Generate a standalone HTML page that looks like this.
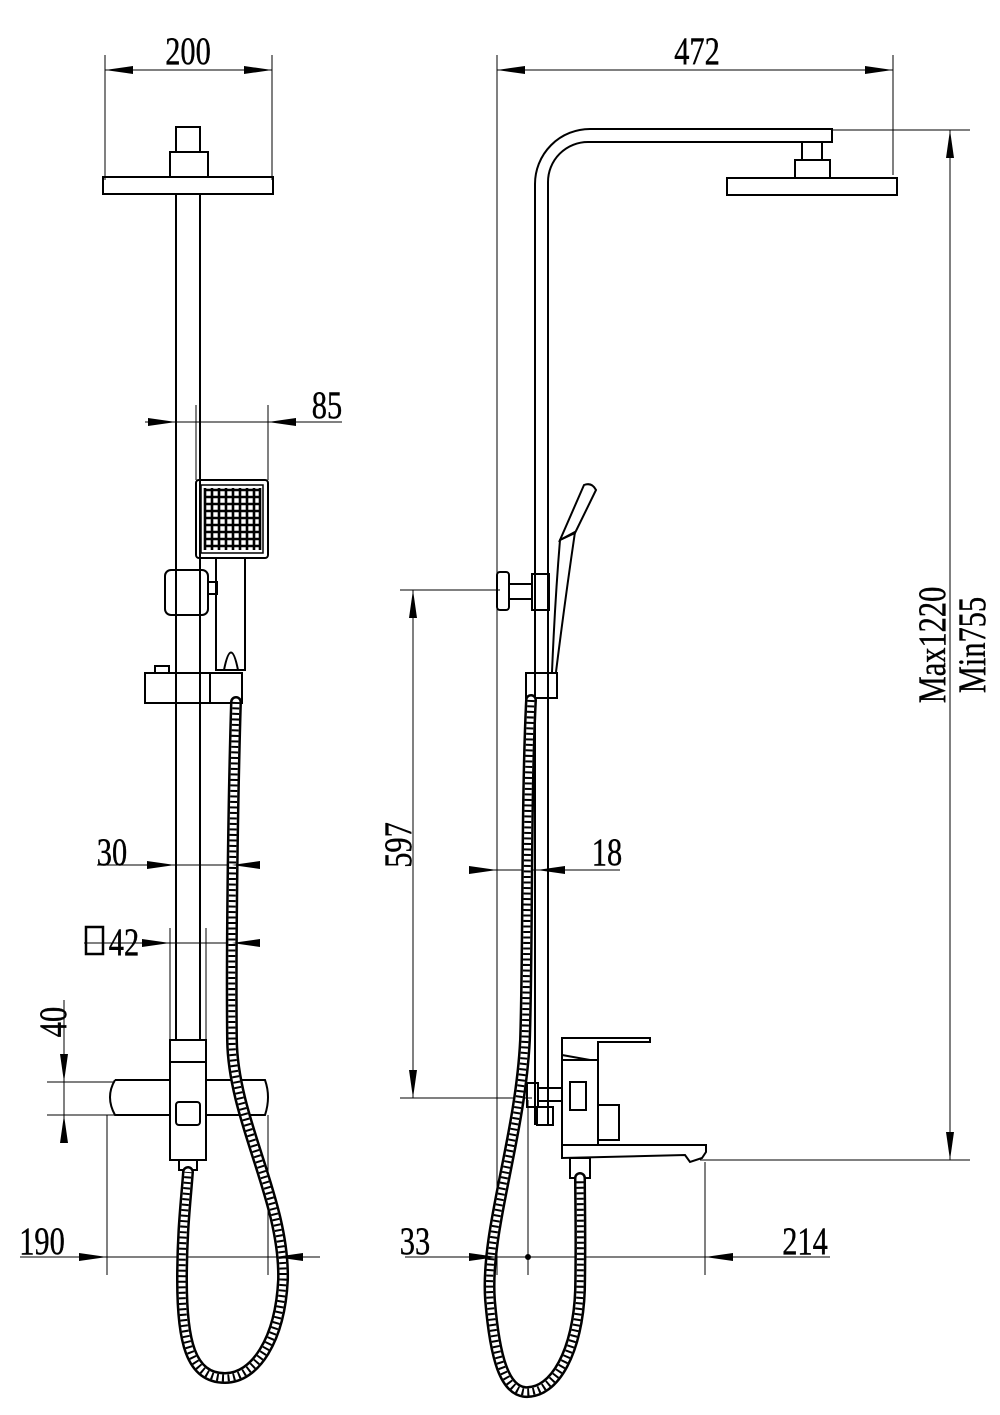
<!DOCTYPE html>
<html><head><meta charset="utf-8"><style>
html,body{margin:0;padding:0;background:#fff}
svg{display:block}
text{font-family:"Liberation Serif",serif;font-size:39px;fill:#000;stroke:#000;stroke-width:0.4}
</style></head><body>
<svg width="1000" height="1415" viewBox="0 0 1000 1415" xmlns="http://www.w3.org/2000/svg">
<g fill="none" stroke="#000" stroke-width="1">
<!-- ===== LEFT VIEW ===== -->
<line x1="105" y1="55" x2="105" y2="180"/><line x1="272" y1="55" x2="272" y2="180"/>
<line x1="105" y1="70" x2="272" y2="70"/>
<g stroke-width="2">
<rect x="103" y="177" width="170" height="17"/>
<rect x="170" y="152" width="38" height="25"/>
<rect x="176" y="127" width="24" height="25"/>
<line x1="176" y1="194" x2="176" y2="1040"/><line x1="200" y1="194" x2="200" y2="1040"/>
<rect x="196" y="480" width="72" height="78" rx="3"/>
<rect x="201" y="485" width="62" height="68" stroke-width="1.5"/>
<rect x="216" y="558" width="29" height="112"/>
<path d="M224,670 Q231,635 238,670"/>
<rect x="165" y="570" width="43" height="45" rx="6"/>
<rect x="208" y="582" width="9" height="12"/>
<rect x="145" y="673" width="65" height="30"/>
<rect x="210" y="673" width="32" height="30"/>
<rect x="155" y="666" width="14" height="7"/>
<rect x="170" y="1040" width="36" height="120"/>
<line x1="170" y1="1062" x2="206" y2="1062"/>
<path d="M115,1080 L170,1080 M206,1080 L265,1080 Q271,1097 265,1115 L206,1115 M170,1115 L115,1115 Q105,1097 115,1080"/>
<rect x="176" y="1102" width="24" height="23" rx="3"/>
<rect x="179" y="1160" width="18" height="10"/>
</g>
<g stroke-width="2.6">
<line x1="204" y1="490" x2="260" y2="490"/><line x1="204" y1="497" x2="260" y2="497"/><line x1="204" y1="504" x2="260" y2="504"/><line x1="204" y1="511" x2="260" y2="511"/><line x1="204" y1="518" x2="260" y2="518"/><line x1="204" y1="525" x2="260" y2="525"/><line x1="204" y1="532" x2="260" y2="532"/><line x1="204" y1="539" x2="260" y2="539"/><line x1="204" y1="546" x2="260" y2="546"/>
<line x1="205" y1="488" x2="205" y2="550"/><line x1="212" y1="488" x2="212" y2="550"/><line x1="219" y1="488" x2="219" y2="550"/><line x1="226" y1="488" x2="226" y2="550"/><line x1="233" y1="488" x2="233" y2="550"/><line x1="240" y1="488" x2="240" y2="550"/><line x1="247" y1="488" x2="247" y2="550"/><line x1="254" y1="488" x2="254" y2="550"/><line x1="260" y1="488" x2="260" y2="550"/>
</g>
<line x1="196" y1="405" x2="196" y2="480"/><line x1="268" y1="405" x2="268" y2="480"/>
<line x1="145" y1="422" x2="342" y2="422"/>
<line x1="97" y1="865" x2="252" y2="865"/>
<line x1="84" y1="943" x2="257" y2="943"/>
<line x1="170" y1="928" x2="170" y2="1040"/><line x1="206" y1="928" x2="206" y2="1040"/>
<line x1="64" y1="1000" x2="64" y2="1140"/>
<line x1="47" y1="1082" x2="115" y2="1082"/><line x1="47" y1="1115" x2="115" y2="1115"/>
<line x1="20" y1="1257" x2="320" y2="1257"/>
<line x1="107" y1="1115" x2="107" y2="1275"/><line x1="268" y1="1115" x2="268" y2="1275"/>
<rect x="86" y="927" width="17" height="27" stroke-width="2.5"/>

<!-- ===== RIGHT VIEW ===== -->
<line x1="497" y1="55" x2="497" y2="1275"/><line x1="893" y1="55" x2="893" y2="175"/>
<line x1="497" y1="70" x2="893" y2="70"/>
<line x1="832" y1="130" x2="970" y2="130"/><line x1="700" y1="1160" x2="970" y2="1160"/>
<line x1="950" y1="130" x2="950" y2="1160"/>
<line x1="400" y1="590" x2="500" y2="590"/><line x1="400" y1="1098" x2="532" y2="1098"/>
<line x1="413" y1="590" x2="413" y2="1098"/>
<line x1="484" y1="870" x2="620" y2="870"/>
<line x1="405" y1="1257" x2="830" y2="1257"/>
<line x1="528" y1="1100" x2="528" y2="1275"/><line x1="705" y1="1162" x2="705" y2="1275"/>
<g stroke-width="2">
<path d="M535,1125 L535,184 A55,55 0 0 1 590,129 L832,129 L832,142 L588,142 A40,40 0 0 0 548,182 L548,1125"/>
<rect x="727" y="178" width="170" height="17"/>
<rect x="795" y="160" width="35" height="18"/>
<rect x="802" y="142" width="20" height="18"/>
<rect x="497" y="572" width="12" height="38" rx="3"/>
<rect x="509" y="584" width="23" height="15"/>
<rect x="532" y="574" width="17" height="36"/>
<path d="M552,672 Q555,600 560,540 L575,532 Q565,600 556,672"/>
<path d="M560,540 L584,485 Q592,482 596,490 L575,533 Z"/>
<rect x="526" y="673" width="31" height="25"/>
<path d="M562,1038 L650,1038 L650,1042 L598,1042 L598,1060 L562,1060 Z"/>
<path d="M562,1055 L590,1060"/>
<rect x="562" y="1060" width="36" height="85"/>
<rect x="570" y="1082" width="16" height="28"/>
<rect x="538" y="1088" width="24" height="13"/>
<rect x="527" y="1083" width="11" height="24"/>
<rect x="537" y="1107" width="16" height="18"/>
<rect x="598" y="1105" width="21" height="35"/>
<path d="M562,1145 L706,1145 L706,1152 L702,1158 L690,1162 L685,1155 L562,1158 Z"/>
<rect x="570" y="1158" width="20" height="20"/>
</g>
<circle cx="528" cy="1257" r="2.5" fill="#000"/>
<g stroke-linecap="round">
<path d="M236,702 C233,800 231,950 232,1040 C233,1120 285,1200 283,1280 C280,1340 255,1378 225,1378 C190,1378 182,1340 182,1280 C182,1230 186,1200 188,1172" stroke-width="12"/>
<path d="M236,702 C233,800 231,950 232,1040 C233,1120 285,1200 283,1280 C280,1340 255,1378 225,1378 C190,1378 182,1340 182,1280 C182,1230 186,1200 188,1172" stroke="#fff" stroke-width="7"/>
<path d="M236,702 C233,800 231,950 232,1040 C233,1120 285,1200 283,1280 C280,1340 255,1378 225,1378 C190,1378 182,1340 182,1280 C182,1230 186,1200 188,1172" stroke-width="7" stroke-dasharray="2 3.5" stroke-linecap="butt"/>
<path d="M531,700 C526,800 528,950 525,1040 C520,1140 485,1230 490,1300 C495,1360 505,1390 525,1392 C555,1394 578,1350 580,1290 C581,1240 580,1200 580,1178" stroke-width="12"/>
<path d="M531,700 C526,800 528,950 525,1040 C520,1140 485,1230 490,1300 C495,1360 505,1390 525,1392 C555,1394 578,1350 580,1290 C581,1240 580,1200 580,1178" stroke="#fff" stroke-width="7"/>
<path d="M531,700 C526,800 528,950 525,1040 C520,1140 485,1230 490,1300 C495,1360 505,1390 525,1392 C555,1394 578,1350 580,1290 C581,1240 580,1200 580,1178" stroke-width="7" stroke-dasharray="2 3.5" stroke-linecap="butt"/>
</g>
</g>
<g fill="#000">
<path d="M105,70 l28,-4 v8z"/><path d="M272,70 l-28,-4 v8z"/>
<path d="M497,70 l28,-4 v8z"/><path d="M893,70 l-28,-4 v8z"/>
<path d="M176,422 l-28,-4 v8z"/><path d="M268,422 l28,-4 v8z"/>
<path d="M175,865 l-28,-4 v8z"/><path d="M232,865 l28,-4 v8z"/>
<path d="M170,943 l-28,-4 v8z"/><path d="M232,943 l28,-4 v8z"/>
<path d="M64,1082 l-4,-28 h8z"/><path d="M64,1115 l-4,28 h8z"/>
<path d="M107,1257 l-28,-4 v8z"/><path d="M275,1257 l28,-4 v8z"/>
<path d="M950,130 l-4,28 h8z"/><path d="M950,1160 l-4,-28 h8z"/>
<path d="M413,590 l-4,28 h8z"/><path d="M413,1098 l-4,-28 h8z"/>
<path d="M497,870 l-28,-4 v8z"/><path d="M537,870 l28,-4 v8z"/>
<path d="M497,1257 l-28,-4 v8z"/><path d="M705,1257 l28,-4 v8z"/>
</g>
<g>
<text transform="translate(188,64) scale(0.78,1)" text-anchor="middle">200</text>
<text transform="translate(697,64) scale(0.78,1)" text-anchor="middle">472</text>
<text transform="translate(327,418) scale(0.78,1)" text-anchor="middle">85</text>
<text transform="translate(112,865) scale(0.78,1)" text-anchor="middle">30</text>
<text transform="translate(124,955) scale(0.78,1)" text-anchor="middle">42</text>
<text transform="translate(42,1254) scale(0.78,1)" text-anchor="middle">190</text>
<text transform="translate(607,865) scale(0.78,1)" text-anchor="middle">18</text>
<text transform="translate(415,1254) scale(0.78,1)" text-anchor="middle">33</text>
<text transform="translate(805,1254) scale(0.78,1)" text-anchor="middle">214</text>
<text transform="translate(66,1022) rotate(-90) scale(0.78,1)" text-anchor="middle">40</text>
<text transform="translate(411,845) rotate(-90) scale(0.78,1)" text-anchor="middle">597</text>
<text transform="translate(945,645) rotate(-90) scale(0.78,1)" text-anchor="middle">Max1220</text>
<text transform="translate(985,645) rotate(-90) scale(0.78,1)" text-anchor="middle">Min755</text>
</g>
</svg>
</body></html>
